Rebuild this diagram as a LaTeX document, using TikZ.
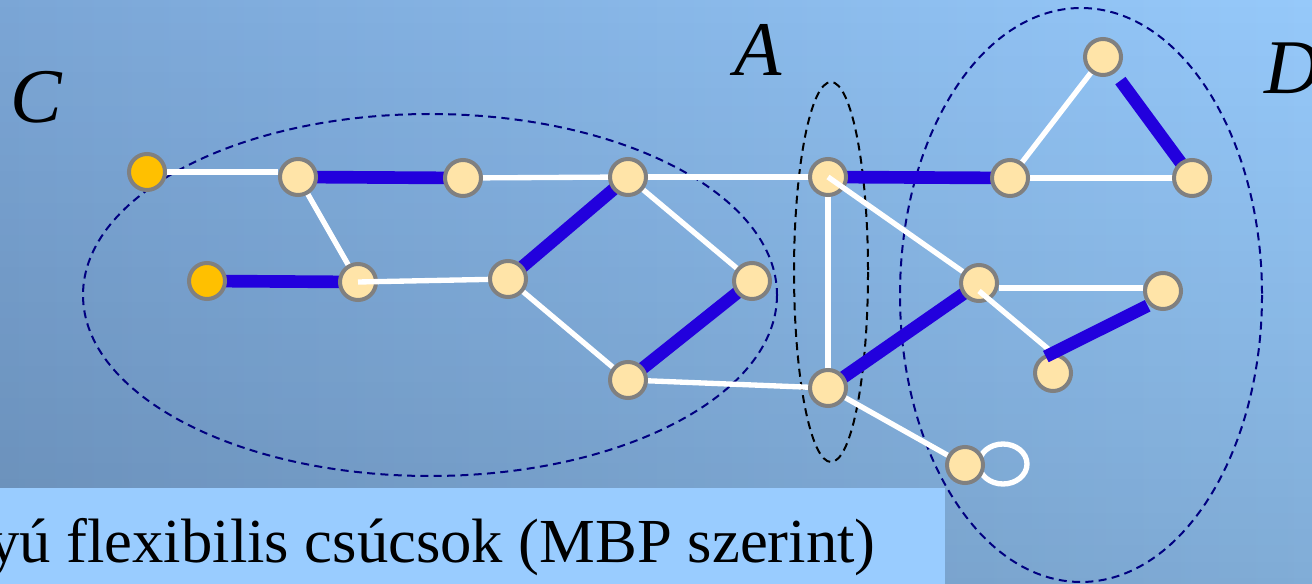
\documentclass[tikz,border=0pt]{standalone}
\usepackage{fontspec}
\setmainfont{Liberation Serif}
\usetikzlibrary{fadings}
\begin{document}
\begin{tikzpicture}[x=0.75pt,y=-0.75pt,
  vtx/.style={circle,draw=vgray,line width=3pt,fill=beige,minimum size=27pt,inner sep=0pt},
  ovtx/.style={vtx,fill=orng},
  wedge/.style={draw=white,line width=4pt},
  bedge/.style={draw=bblue,line width=9.5pt,shorten >=2pt,shorten <=2pt},
  grp/.style={draw=navy,dash pattern=on 6pt off 4pt,line width=1.5pt},
  lbl/.style={font=\fontsize{58}{60}\selectfont\itshape,inner sep=0pt}]
\definecolor{beige}{HTML}{FFE4A8}
\definecolor{orng}{HTML}{FFC000}
\definecolor{vgray}{HTML}{808080}
\definecolor{bblue}{HTML}{2200DD}
\definecolor{navy}{HTML}{000080}
\definecolor{boxc}{HTML}{99CCFF}
\definecolor{bgl}{HTML}{7BA6D6}
\definecolor{bgr}{HTML}{96C9FA}
\useasboundingbox (0,0) rectangle (1312,584);
\shade[left color=bgl,right color=bgr] (0pt,0pt) rectangle (984pt,-438pt);
\fill[black,opacity=0.14,path fading=north] (0pt,0pt) rectangle (984pt,-438pt);
% groups
\draw[grp] (430,295) ellipse [x radius=347, y radius=181];
\draw[grp,draw=black] (831,272) ellipse [x radius=37, y radius=190];
\draw[grp] (1081,295) ellipse [x radius=181, y radius=287];
% labels
\node[lbl] (lC) at (36,97) {C};
\node[lbl] (lA) at (758,50) {A};
\node[lbl] (lD) at (1292,68) {D};
% vertices coordinates
\coordinate (p1) at (147,172);
\coordinate (p2) at (207,281);
\coordinate (pa) at (298,177);
\coordinate (pb) at (463,178);
\coordinate (pc) at (628,177);
\coordinate (pd) at (358,282);
\coordinate (pe) at (508,279);
\coordinate (pf) at (752,281);
\coordinate (pg) at (628,380);
\coordinate (ph) at (828,177);
\coordinate (pi) at (828,388);
\coordinate (pj) at (1010,178);
\coordinate (pk) at (1103,57);
\coordinate (pl) at (1192,178);
\coordinate (pm) at (979,283);
\coordinate (pn) at (1163,291);
\coordinate (po) at (1053,373);
\coordinate (pp) at (965,465);
% edges under vertices
\draw[wedge] (pa) -- (pd);
\draw[wedge] (pb) -- (pc);
\draw[wedge] (pc) -- (ph);
\draw[wedge] (pc) -- (pf);
\draw[wedge] (pe) -- (pg);
\draw[wedge] (pg) -- (pi);
\draw[wedge] (ph) -- (pi);
\draw[wedge] (pj) -- (pk);
\draw[wedge] (pj) -- (pl);
\draw[wedge] (pi) -- (pp);
\draw[wedge] (1003,464) ellipse [x radius=24, y radius=20];
\draw[bedge] (pa) -- (pb);
\draw[bedge] (p2) -- (pd);
\draw[bedge] (pe) -- (pc);
\draw[bedge] (pf) -- (pg);
\draw[bedge] (ph) -- (pj);
\draw[bedge,shorten <=22pt] (pk) -- (pl);
\draw[bedge,shorten <=14pt] (pi) -- (pm);
% vertices
\node[ovtx] (v1) at (p1) {};
\node[ovtx] (v2) at (p2) {};
\node[vtx] (va) at (pa) {};
\node[vtx] (vb) at (pb) {};
\node[vtx] (vc) at (pc) {};
\node[vtx] (vd) at (pd) {};
\node[vtx] (ve) at (pe) {};
\node[vtx] (vf) at (pf) {};
\node[vtx] (vg) at (pg) {};
\node[vtx] (vh) at (ph) {};
\node[vtx] (vi) at (pi) {};
\node[vtx] (vj) at (pj) {};
\node[vtx] (vk) at (pk) {};
\node[vtx] (vl) at (pl) {};
\node[vtx] (vm) at (pm) {};
\node[vtx] (vn) at (pn) {};
\node[vtx] (vo) at (po) {};
\node[vtx] (vp) at (pp) {};
% edges touching or over vertices
\draw[wedge] (v1) -- ([yshift=3.75pt]va.west);
\draw[wedge] ([yshift=-3.75pt]vm.east) -- ([yshift=2.25pt]vn.west);
\draw[wedge] ([yshift=-6pt]vm.center) -- (vo.north);
\draw[bedge,shorten <=1pt,shorten >=-6pt] (vn.south west) -- (vo.north);
\draw[wedge] (vd.center) -- (ve);
\draw[wedge] (vh.center) -- (vm);
% bottom caption box
\begin{scope}
\clip (0,488) rectangle (945,584);
\fill[boxc] (0,488) rectangle (945,584);
\node[anchor=base east,inner sep=0pt,font=\fontsize{47}{50}\selectfont] (cap) at (876,562) {yú flexibilis csúcsok (MBP szerint)};
\end{scope}
\end{tikzpicture}
\end{document}
